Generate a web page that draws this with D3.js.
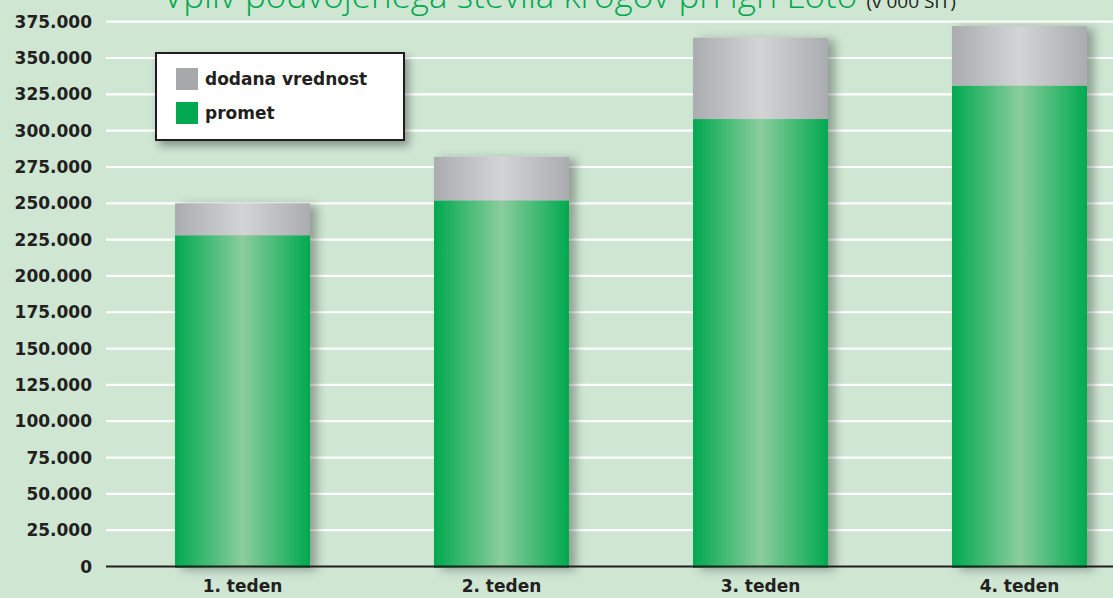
<!DOCTYPE html>
<html>
<head>
<meta charset="utf-8">
<script src="https://cdn.jsdelivr.net/npm/d3@7"></script>
<style>
  html, body { margin: 0; padding: 0; background: #cfe6d3; }
  svg { display: block; }
  .tick-label { font-family: "DejaVu Sans", sans-serif; font-weight: bold; font-size: 17px; fill: #231f20; }
  .cat-label { font-family: "DejaVu Sans", sans-serif; font-weight: bold; font-size: 17px; fill: #231f20; }
  .legend-text { font-family: "DejaVu Sans", sans-serif; font-weight: bold; font-size: 17px; fill: #231f20; }
</style>
</head>
<body>
<div id="chart"></div>
<script>
// data (v 000 SIT)
var categories = ["1. teden", "2. teden", "3. teden", "4. teden"];
var promet = [228000, 252000, 308000, 331000];
var dodana = [22000, 30000, 56000, 41000];
var yTicks = d3.range(0, 375001, 25000);
var seriesNames = ["dodana vrednost", "promet"];

var width = 1113, height = 598;

var svg = d3.select('#chart')
    .append('svg')
    .attr('width', width)
    .attr('height', height);

svg.append('rect')
    .attr('width', width)
    .attr('height', height)
    .style('fill', '#cfe6d3');

var defs = svg.append('defs');

function hGradient(id, edge, mid) {
    var g = defs.append('linearGradient')
        .attr('id', id)
        .attr('x1', '0%').attr('x2', '100%')
        .attr('y1', '0%').attr('y2', '0%');
    g.append('stop').attr('offset', '0%').attr('stop-color', edge);
    g.append('stop').attr('offset', '50%').attr('stop-color', mid);
    g.append('stop').attr('offset', '100%').attr('stop-color', edge);
}
hGradient('grad-green', '#00a94f', '#8bcd9d');
hGradient('grad-gray', '#abacb0', '#d3d4d6');

var shadow = defs.append('filter')
    .attr('id', 'shadow')
    .attr('x', '-20%').attr('y', '-20%')
    .attr('width', '150%').attr('height', '150%');
shadow.append('feDropShadow')
    .attr('dx', 7).attr('dy', 2)
    .attr('stdDeviation', 5)
    .attr('flood-color', '#000')
    .attr('flood-opacity', 0.3);

var boxShadow = defs.append('filter')
    .attr('id', 'box-shadow')
    .attr('x', '-20%').attr('y', '-20%')
    .attr('width', '150%').attr('height', '160%');
boxShadow.append('feDropShadow')
    .attr('dx', 4).attr('dy', 5)
    .attr('stdDeviation', 4)
    .attr('flood-color', '#000')
    .attr('flood-opacity', 0.35);

var slFormat = d3.formatLocale({
    decimal: ",", thousands: ".", grouping: [3], currency: ["", ""]
}).format(",d");

var y = d3.scaleLinear()
    .domain([0, 375000])
    .range([566.5, 21.7]);

var x = d3.scaleBand()
    .domain(categories)
    .range([113, 1149])
    .paddingInner(0.479)
    .paddingOuter(0.2395);

// gridlines
svg.append('g')
    .selectAll('line')
    .data(yTicks.filter(d => d > 0))
    .enter()
    .append('line')
    .attr('x1', 106)
    .attr('x2', width)
    .attr('y1', d => y(d))
    .attr('y2', d => y(d))
    .style('stroke', '#ffffff')
    .style('stroke-width', 2.2);

// y labels
svg.append('g')
    .selectAll('text')
    .data(yTicks)
    .enter()
    .append('text')
    .attr('class', 'tick-label')
    .attr('x', 92)
    .attr('y', d => y(d))
    .attr('dy', '0.36em')
    .attr('text-anchor', 'end')
    .text(d => slFormat(d));

// bars
var bars = svg.append('g')
    .selectAll('g')
    .data(categories)
    .enter()
    .append('g')
    .attr('filter', 'url(#shadow)');

bars.append('rect')
    .attr('x', d => x(d))
    .attr('width', x.bandwidth())
    .attr('y', (d, i) => y(promet[i]))
    .attr('height', (d, i) => y(0) + 1.5 - y(promet[i]))
    .style('fill', 'url(#grad-green)');

bars.append('rect')
    .attr('x', d => x(d))
    .attr('width', x.bandwidth())
    .attr('y', (d, i) => y(promet[i] + dodana[i]))
    .attr('height', (d, i) => y(promet[i]) - y(promet[i] + dodana[i]))
    .style('fill', 'url(#grad-gray)');

// axis line
svg.append('line')
    .attr('x1', 106)
    .attr('x2', width)
    .attr('y1', y(0))
    .attr('y2', y(0))
    .style('stroke', '#231f20')
    .style('stroke-width', 2);

// category labels
svg.append('g')
    .selectAll('text')
    .data(categories)
    .enter()
    .append('text')
    .attr('class', 'cat-label')
    .attr('x', d => x(d) + x.bandwidth() / 2)
    .attr('y', 592)
    .attr('text-anchor', 'middle')
    .text(d => d);

// legend
var legend = svg.append('g');
legend.append('rect')
    .attr('x', 156)
    .attr('y', 53)
    .attr('width', 248)
    .attr('height', 87)
    .style('fill', '#ffffff')
    .style('stroke', '#231f20')
    .style('stroke-width', 2)
    .attr('filter', 'url(#box-shadow)');

var legendColors = ['#a7a8ac', '#00a94f'];
var items = legend.selectAll('g')
    .data(seriesNames)
    .enter()
    .append('g')
    .attr('transform', (d, i) => 'translate(176,' + (68 + i * 34) + ')');
items.append('rect')
    .attr('width', 22)
    .attr('height', 22)
    .style('fill', (d, i) => legendColors[i]);
items.append('text')
    .attr('class', 'legend-text')
    .attr('x', 29)
    .attr('y', 17)
    .text(d => d);

// title (cut off at the top, as in the original)
var title = svg.append('text')
    .attr('x', 163)
    .attr('y', 7.5)
    .style('font-family', '"Open Sans", sans-serif')
    .style('font-weight', 300)
    .style('font-size', '35px');
title.append('tspan')
    .style('fill', '#00a94f')
    .text('Vpliv podvojenega števila krogov pri igri Loto ');
title.append('tspan')
    .style('fill', '#231f20')
    .style('font-size', '19px')
    .style('font-weight', 400)
    .text('(v 000 SIT)');
</script>
</body>
</html>
